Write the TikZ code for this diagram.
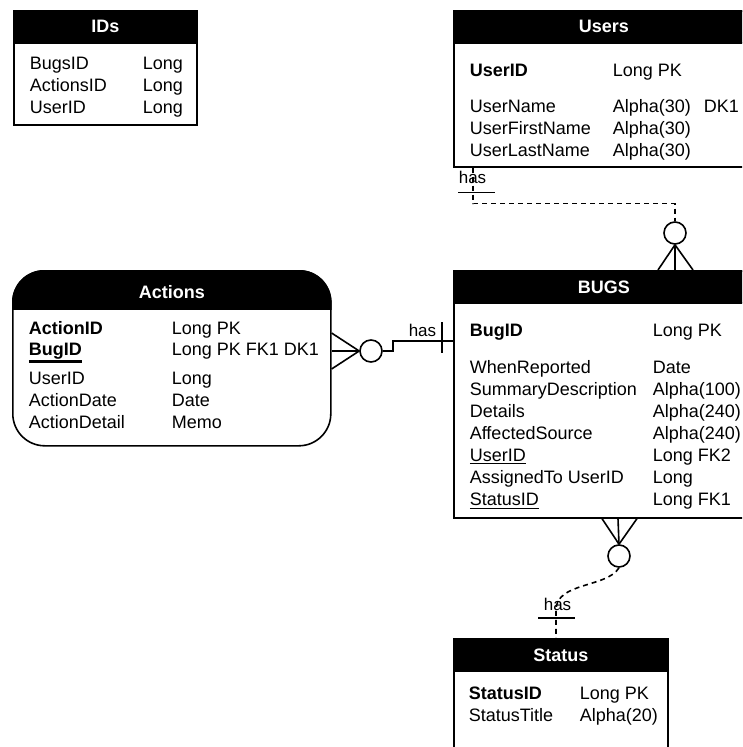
\documentclass[tikz,border=0pt]{standalone}
\usepackage{fontspec}
\setmainfont{Liberation Sans}
\usetikzlibrary{calc}

% underlined foreign key, and the thick key separator
\newcommand\fkline[1]{\setbox0\hbox{#1}\rlap{\rule[-3pt]{\wd0}{1.1pt}}\box0}
\newcommand\keyline[1]{\setbox0\hbox{#1}\rlap{\rule[-7.5pt]{\wd0}{2.2pt}}\box0}

\begin{document}
\begin{tikzpicture}[x=1pt,y=-1pt,line width=1.6pt,
  tbl/.style={draw,anchor=north west,inner sep=0},
  hdr/.style={draw,fill=black,anchor=north west,minimum height=32,
    text=white,font=\bfseries\fontsize{18}{22}\selectfont},
  fld/.style={anchor=base west,inner sep=0,font=\fontsize{18}{22}\selectfont},
  rel/.style={inner sep=0,font=\fontsize{17}{20}\selectfont},
  opt/.style={circle,draw,minimum size=22,inner sep=0},
  idf/.style={dash pattern=on 5pt off 4pt}]
\clip (0,0) rectangle (742,747);

% IDs
\node[tbl,minimum width=183,minimum height=114] (ids) at (13,10) {};
\node[hdr,minimum width=183] (idsh) at (13,10) {IDs};
\foreach \f [count=\i from 0] in {BugsID,ActionsID,UserID}
  \path (29,69+22*\i) node[fld] (idf\i) {\f} (142,69+22*\i) node[fld] (idt\i) {Long};

% Users
\node[tbl,minimum width=300,minimum height=156] (users) at (453,10) {};
\node[hdr,minimum width=300] (usersh) at (453,10) {Users};
\node[fld] (uid) at (469,76) {\bfseries UserID};
\node[fld] (uidt) at (612,76) {Long PK};
\foreach \f [count=\i from 0] in {UserName,UserFirstName,UserLastName}
  \path (469,112+22*\i) node[fld] (uf\i) {\f} (612,112+22*\i) node[fld] (ut\i) {Alpha(30)};
\node[fld] (udk) at (703,112) {DK1};

% Actions
\node[tbl,rounded corners=32,minimum width=318,minimum height=175] (acts) at (12,270) {};
\begin{scope}
  \clip[rounded corners=32] (acts.north west) rectangle (acts.south east);
  \fill (acts.north west) rectangle ($(acts.north east)+(0,40)$);
\end{scope}
\node[text=white,font=\bfseries\fontsize{18}{22}\selectfont] (actsh) at ($(acts.north)+(0,22)$) {Actions};
\node[fld] (aid) at (28,334) {\bfseries ActionID};
\node[fld] (aidt) at (171,334) {Long PK};
\node[fld] (abug) at (28,355) {\keyline{\bfseries BugID}};
\node[fld] (abugt) at (171,355) {Long PK FK1 DK1};
\foreach \f/\t [count=\i from 0] in {UserID/Long,ActionDate/Date,ActionDetail/Memo}
  \path (28,384+22*\i) node[fld] (af\i) {\f} (171,384+22*\i) node[fld] (at\i) {\t};

% BUGS
\node[tbl,minimum width=300,minimum height=247] (bugs) at (453,270) {};
\node[hdr,minimum width=300] (bugsh) at (453,270) {BUGS};
\node[fld] (bid) at (469,336) {\bfseries BugID};
\node[fld] (bidt) at (652,336) {Long PK};
\foreach \f/\t [count=\i from 0] in {WhenReported/Date,SummaryDescription/Alpha(100),
    Details/Alpha(240),AffectedSource/Alpha(240),\fkline{UserID}/Long FK2,
    AssignedTo UserID/Long,\fkline{StatusID}/Long FK1}
  \path (469,373+22.1*\i) node[fld] (bf\i) {\f} (652,373+22.1*\i) node[fld] (bt\i) {\t};

% Status
\node[tbl,minimum width=214,minimum height=130] (st) at (453,638) {};
\node[hdr,minimum width=214] (sth) at (453,638) {Status};
\node[fld] (sid) at (468,699) {\bfseries StatusID};
\node[fld] (sidt) at (579,699) {Long PK};
\node[fld] (stt) at (468,721) {StatusTitle};
\node[fld] (sttt) at (579,721) {Alpha(20)};

% Actions -- BUGS
\node[opt] (o1) at (371,351) {};
\foreach \dy in {63,81,99}
  \draw (o1.west) -- ($(acts.north east)+(0,\dy)$);
\draw (o1.east) -- ++(10,0) |- ($(bugs.north west)+(0,71)$);
\draw ($(bugs.north west)+(-11,52)$) -- ++(0,31);
\node[rel,anchor=base east] (h1) at (437,336) {has};

% Users -- BUGS
\node[opt] (o2) at (675,233) {};
\foreach \dx in {205,222,240}
  \draw (o2.south) -- ($(bugs.north west)+(\dx,0)$);
\draw[idf] ($(users.south west)+(20,0)$) -- ++(0,36) -| (o2.north);
\draw ($(users.south west)+(5,25)$) -- ++(37,0);
\node[rel,anchor=base west] (h2) at (458,183) {has};

% BUGS -- Status
\node[opt] (o3) at (619,556) {};
\foreach \dx in {149,165,184}
  \draw (o3.north) -- ($(bugs.south west)+(\dx,0)$);
\coordinate (s1) at ($(st.north west)+(103,0)$);
\draw[idf] (o3.south) .. controls +(-12,20) and +(0,-28) .. ($(s1)+(0,-28)$) -- (s1);
\draw ($(s1)+(-18,-20)$) -- ++(37,0);
\node[rel,anchor=base west] (h3) at (543,610) {has};
\end{tikzpicture}
\end{document}
